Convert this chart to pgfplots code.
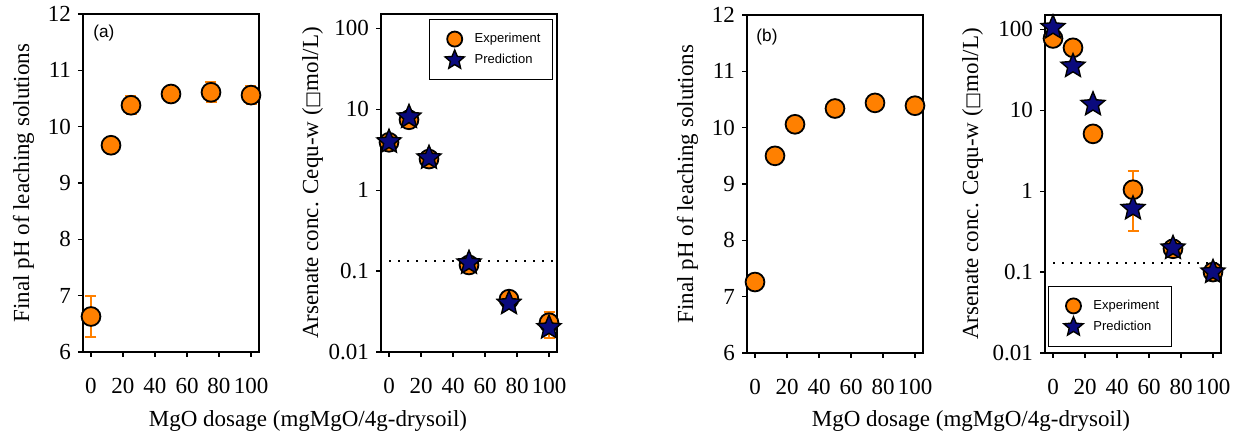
\documentclass[border=0pt]{standalone}
\usepackage{fontspec}
\setmainfont{Liberation Serif}
\setsansfont{Liberation Sans}
\newfontfamily\boxfont{DejaVu Sans}
\usepackage{pgfplots}
\pgfplotsset{compat=1.18}
\usepackage{pgfplotstable}
\definecolor{myorange}{RGB}{255,128,0}
\definecolor{mynavy}{RGB}{10,10,125}

\pgfdeclareplotmark{fstar}{%
  \pgfpathmoveto{\pgfpointpolar{90}{\pgfplotmarksize}}%
  \pgfpathlineto{\pgfpointpolar{126}{0.45\pgfplotmarksize}}%
  \pgfpathlineto{\pgfpointpolar{162}{\pgfplotmarksize}}%
  \pgfpathlineto{\pgfpointpolar{198}{0.45\pgfplotmarksize}}%
  \pgfpathlineto{\pgfpointpolar{234}{\pgfplotmarksize}}%
  \pgfpathlineto{\pgfpointpolar{270}{0.45\pgfplotmarksize}}%
  \pgfpathlineto{\pgfpointpolar{306}{\pgfplotmarksize}}%
  \pgfpathlineto{\pgfpointpolar{342}{0.45\pgfplotmarksize}}%
  \pgfpathlineto{\pgfpointpolar{18}{\pgfplotmarksize}}%
  \pgfpathlineto{\pgfpointpolar{54}{0.45\pgfplotmarksize}}%
  \pgfpathclose
  \pgfusepathqfillstroke}

\pgfplotstableread{
x y e
0 6.63 0.37
12.5 9.67 0.05
25 10.38 0.16
50 10.58 0.10
75 10.61 0.18
100 10.56 0.16
}\pHa
\pgfplotstableread{
x y e
0 3.9 0.3
12.5 7.4 0.8
25 2.42 0.2
50 0.119 0.01
75 0.045 0.004
100 0.023 0.008
}\expa
\pgfplotstableread{
x y
0 3.95
12.5 8.0
25 2.5
50 0.126
75 0.040
100 0.020
}\preda
\pgfplotstableread{
x y e
0 7.26 0.05
12.5 9.50 0.05
25 10.06 0.05
50 10.34 0.05
75 10.44 0.05
100 10.39 0.05
}\pHb
\pgfplotstableread{
x y e
0 77 3
12.5 59 3
25 5.1 0.3
50 1.04 0.72
75 0.194 0.01
100 0.10 0.02
}\expb
\pgfplotstableread{
x y
0 105
12.5 35
25 11.8
50 0.61
75 0.198
100 0.10
}\predb

\pgfplotsset{
  myax/.style={scale only axis, width=88pt, height=169pt,
    xmin=-5, xmax=105, xtick={0,20,...,100},
    tick align=outside, tick pos=left, major tick length=2.5pt,
    tick style={black, line width=0.6pt},
    axis line style={line width=0.6pt},
    ticklabel style={font=\fontsize{11.5}{13}\selectfont},
    label style={font=\fontsize{11.5}{13}\selectfont},
    xticklabel style={yshift=-7pt},
    clip=false},
  expst/.style={only marks, mark=*, mark size=4.7pt,
    mark options={fill=myorange, draw=black, line width=0.9pt}},
  predst/.style={only marks, mark=fstar, mark size=6.3pt,
    mark options={fill=mynavy, draw=black, line width=0.7pt}},
}

\begin{document}
\begin{tikzpicture}
\useasboundingbox (0,0) rectangle (619.5pt,217pt);

% (a) pH
\begin{axis}[myax, at={(41.5pt,41pt)}, /pgf/number format/assume math mode=true,
  ymin=6, ymax=12, ytick={6,7,...,12},
  ylabel={Final pH of leaching solutions}]
\addplot[forget plot, draw=none, mark=none,
    error bars/.cd, y dir=both, y explicit,
    error bar style={draw=myorange, line width=1pt},
    error mark options={rotate=90, mark size=2.75pt, draw=myorange, line width=1pt}]
  table[x=x, y=y, y error=e] {\pHa};
\addplot[expst] table[x=x, y=y] {\pHa};
\node[font=\sffamily\fontsize{8.6}{10}\selectfont] at (axis cs:8,11.67) {(a)};
\end{axis}

% (a) arsenate
\begin{axis}[myax, at={(190.5pt,41pt)}, /pgf/number format/assume math mode=true,
  ymode=log, ymin=0.01, ymax=150,
  ytick={0.01,0.1,1,10,100}, yticklabels={0.01,0.1,1,10,100}, yminorticks=false,
  ylabel={Arsenate conc. Cequ-w ({\boxfont\fontsize{9}{10}\selectfont □}mol/L)},
  ylabel shift=-4pt,
  legend style={font=\sffamily\fontsize{6.5}{7.5}\selectfont,
      draw=black, line width=0.5pt, inner xsep=4pt, inner ysep=4.5pt,
      nodes={inner ysep=0pt},
      at={(0.977,0.985)}, anchor=north east},
  legend image code/.code={\path[draw=none, fill=none] (-2.5pt,-5.25pt) rectangle (14pt,5.25pt);
      \draw[#1, every mark/.append style={scale=0.8}] plot coordinates {(6pt,0pt)};},
  legend cell align=left]
\addplot[forget plot, black, line width=1pt, dash pattern=on 1pt off 3.5pt] coordinates {(0,0.133) (105,0.133)};
\addplot[forget plot, draw=none, mark=none,
    error bars/.cd, y dir=both, y explicit,
    error bar style={draw=myorange, line width=1pt},
    error mark options={rotate=90, mark size=2.75pt, draw=myorange, line width=1pt}]
  table[x=x, y=y, y error=e] {\expa};
\addplot[expst] table[x=x, y=y] {\expa};
\addlegendentry{Experiment}
\addplot[predst] table[x=x, y=y] {\preda};
\addlegendentry{Prediction}
\end{axis}

% (b) pH
\begin{axis}[myax, at={(373.5pt,40.5pt)}, /pgf/number format/assume math mode=true,
  ymin=6, ymax=12, ytick={6,7,...,12},
  ylabel={Final pH of leaching solutions}]
\addplot[forget plot, draw=none, mark=none,
    error bars/.cd, y dir=both, y explicit,
    error bar style={draw=myorange, line width=1pt},
    error mark options={rotate=90, mark size=2.75pt, draw=myorange, line width=1pt}]
  table[x=x, y=y, y error=e] {\pHb};
\addplot[expst] table[x=x, y=y] {\pHb};
\node[font=\sffamily\fontsize{8.6}{10}\selectfont] at (axis cs:7.5,11.61) {(b)};
\end{axis}

% (b) arsenate
\begin{axis}[myax, at={(522.5pt,40.5pt)}, /pgf/number format/assume math mode=true,
  ymode=log, ymin=0.01, ymax=150,
  ytick={0.01,0.1,1,10,100}, yticklabels={0.01,0.1,1,10,100}, yminorticks=false,
  ylabel={Arsenate conc. Cequ-w ({\boxfont\fontsize{9}{10}\selectfont □}mol/L)},
  ylabel shift=-2pt,
  legend style={font=\sffamily\fontsize{6.5}{7.5}\selectfont,
      draw=black, line width=0.5pt, inner xsep=4pt, inner ysep=4.5pt,
      nodes={inner ysep=0pt},
      at={(0.017,0.018)}, anchor=south west},
  legend image code/.code={\path[draw=none, fill=none] (-2.5pt,-5.25pt) rectangle (14pt,5.25pt);
      \draw[#1, every mark/.append style={scale=0.8}] plot coordinates {(6pt,0pt)};},
  legend cell align=left]
\addplot[forget plot, black, line width=1pt, dash pattern=on 1pt off 3.5pt] coordinates {(0,0.13) (105,0.13)};
\addplot[forget plot, draw=none, mark=none,
    error bars/.cd, y dir=both, y explicit,
    error bar style={draw=myorange, line width=1pt},
    error mark options={rotate=90, mark size=2.75pt, draw=myorange, line width=1pt}]
  table[x=x, y=y, y error=e] {\expb};
\addplot[expst] table[x=x, y=y] {\expb};
\addlegendentry{Experiment}
\addplot[predst] table[x=x, y=y] {\predb};
\addlegendentry{Prediction}
\end{axis}

\node[anchor=base, font=\fontsize{11.5}{13}\selectfont] at (154pt,3.5pt) {MgO dosage (mgMgO/4g-drysoil)};
\node[anchor=base, font=\fontsize{11.5}{13}\selectfont] at (485.5pt,3.5pt) {MgO dosage (mgMgO/4g-drysoil)};
\end{tikzpicture}
\end{document}
